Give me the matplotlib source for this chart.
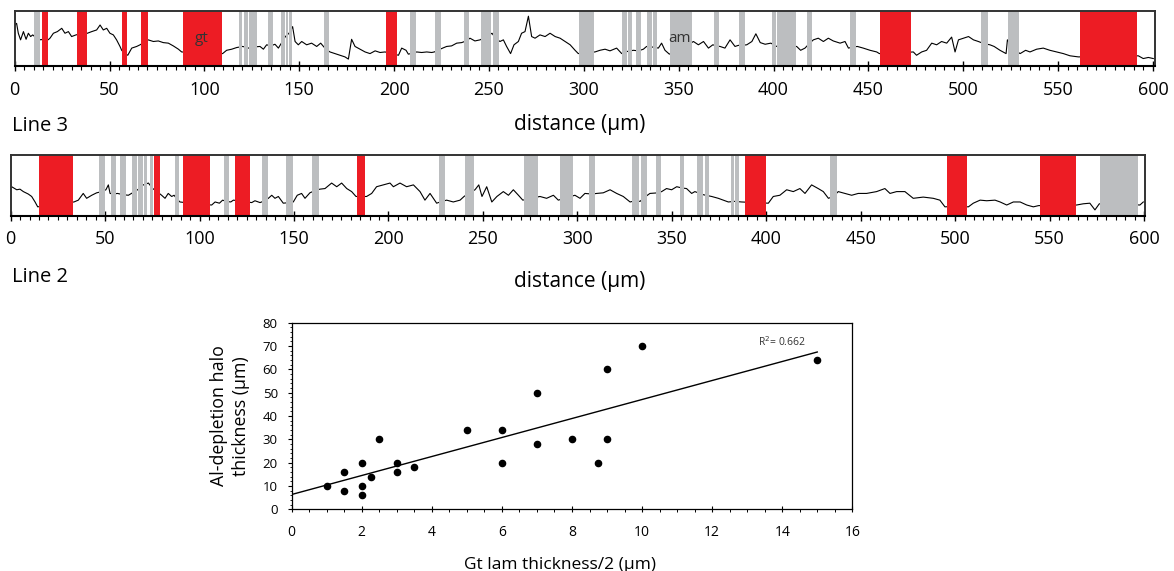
import numpy as np
import matplotlib
matplotlib.use('Agg')
import matplotlib.pyplot as plt
from matplotlib.ticker import MultipleLocator

plt.rcParams['font.family'] = ['Open Sans', 'DejaVu Sans']

RED = '#ED1C24'
GRAY = '#BCBEC0'

# ---------------- Data: top profile ----------------
top_dist = [0, 1.0, 1.9, 3.1, 4.6, 6.0, 7.2, 8.4, 9.5, 11.5, 13.8, 16, 17.6, 18.6, 20.4, 22.5, 24.8, 26.5,
            28.3, 30.0, 32.3, 35, 38.3, 40.6, 43.2, 45.0, 46.7, 48.5, 50.2, 52.0, 53.7, 55.5, 56.4, 58,
            59.6, 61.7, 64.3, 66.1, 68, 70.4, 73.1, 75.7, 78.3, 81.0, 83.6, 86.3, 88.0, 99, 109.6, 111.7,
            114.4, 117.0, 120.2, 123.3, 126, 129.3, 131.1, 132.8, 135, 137.2, 139.0, 142.7, 144.6, 146.5,
            147.8, 149.5, 151.3, 153.9, 156.5, 159.2, 161.3, 164, 166.2, 168.8, 171.5, 174.1, 175.9, 177.6,
            179.4, 182.0, 184.7, 187.3, 190.0, 192.6, 195.2, 198.7, 202.3, 204.0, 206.3, 207.5, 210, 211.9,
            214.5, 217.2, 219.8, 221.2, 223, 225.6, 227.7, 230.3, 233.0, 235.6, 238, 240.0, 242.6, 245.3,
            248.5, 251.6, 253.5, 255.8, 257.6, 259.3, 261.4, 263.2, 265.5, 267.2, 269.0, 270.8, 272.5,
            274.3, 276.9, 279.6, 282.2, 284.9, 287.5, 290.1, 292.8, 295.4, 297.1, 301, 305.9, 308.5, 311.2,
            313.8, 317.3, 320.0, 323, 326.1, 328.8, 331.4, 333.1, 336, 339.3, 341.0, 342.8, 345.1, 351,
            357.8, 360.4, 363.1, 365.7, 368.0, 370, 371.8, 374.4, 377.1, 379.7, 381.5, 383.3, 385.9, 388.6,
            390.7, 393.0, 395.6, 398.6, 401.7, 406.5, 412.2, 414.3, 416.6, 418.8, 421.0, 423.6, 426.3,
            428.9, 431.5, 435.1, 437.7, 439.5, 442, 444.2, 447.3, 450.9, 454.4, 455.8, 464, 473.7, 475.4,
            478.1, 480.7, 483.4, 486.0, 488.6, 491.3, 493.9, 495.7, 497.5, 500.1, 502.8, 505.4, 508.0, 511,
            514.1, 516.3, 519.4, 522.6, 523.3, 526.5, 530.0, 532.9, 535.2, 538.7, 542.2, 545.7, 549.3,
            552.8, 556.3, 560.7, 576, 592.3, 594.9, 597.6, 600.2]
top_val = [0.74, 0.77, 0.59, 0.47, 0.62, 0.48, 0.59, 0.53, 0.56, 0.50, 0.47, 0.50, 0.47, 0.50, 0.59, 0.62,
           0.68, 0.59, 0.62, 0.53, 0.56, 0.58, 0.59, 0.62, 0.65, 0.74, 0.65, 0.68, 0.59, 0.56, 0.47, 0.35,
           0.28, 0.22, 0.19, 0.32, 0.35, 0.38, 0.42, 0.47, 0.44, 0.45, 0.42, 0.41, 0.36, 0.30, 0.25, 0.23,
           0.22, 0.28, 0.30, 0.33, 0.35, 0.32, 0.34, 0.35, 0.30, 0.38, 0.36, 0.39, 0.32, 0.53, 0.59, 0.71,
           0.44, 0.38, 0.44, 0.38, 0.41, 0.35, 0.41, 0.30, 0.25, 0.22, 0.19, 0.16, 0.12, 0.48, 0.35, 0.30,
           0.25, 0.22, 0.27, 0.24, 0.25, 0.22, 0.19, 0.32, 0.28, 0.21, 0.23, 0.25, 0.24, 0.25, 0.24, 0.25,
           0.28, 0.32, 0.35, 0.36, 0.41, 0.42, 0.45, 0.50, 0.45, 0.47, 0.52, 0.59, 0.50, 0.44, 0.47, 0.35,
           0.22, 0.38, 0.44, 0.59, 0.62, 0.90, 0.53, 0.50, 0.56, 0.53, 0.59, 0.53, 0.50, 0.44, 0.38, 0.28,
           0.22, 0.24, 0.25, 0.28, 0.30, 0.27, 0.32, 0.22, 0.26, 0.28, 0.27, 0.30, 0.35, 0.34, 0.32, 0.41,
           0.28, 0.21, 0.30, 0.44, 0.38, 0.44, 0.32, 0.38, 0.36, 0.35, 0.32, 0.47, 0.35, 0.37, 0.37, 0.38,
           0.44, 0.58, 0.42, 0.39, 0.41, 0.35, 0.36, 0.35, 0.28, 0.32, 0.40, 0.47, 0.50, 0.44, 0.50, 0.45,
           0.41, 0.44, 0.32, 0.34, 0.35, 0.32, 0.28, 0.25, 0.22, 0.23, 0.25, 0.19, 0.25, 0.28, 0.41, 0.38,
           0.44, 0.41, 0.52, 0.25, 0.47, 0.50, 0.53, 0.47, 0.44, 0.40, 0.38, 0.35, 0.28, 0.22, 0.47, 0.30,
           0.22, 0.28, 0.25, 0.30, 0.32, 0.28, 0.25, 0.22, 0.18, 0.16, 0.17, 0.18, 0.13, 0.15, 0.13]
top_red = [(14.4, 17.4), (32.8, 38.1), (56.5, 59.2), (66.6, 70.1), (88.7, 109.1), (195.7, 201.7),
           (456.1, 472.3), (561.6, 591.5)]
top_gray = [(10.2, 13.3), (118.2, 120.0), (120.7, 123.1), (123.7, 127.6), (133.5, 136.2), (140.4, 142.6),
            (143.0, 144.2), (144.8, 146.3), (163.0, 165.7), (208.4, 211.4), (221.6, 224.7), (236.9, 239.6),
            (245.8, 251.1), (252.1, 255.3), (297.5, 305.2), (320.3, 322.8), (323.3, 325.4), (327.7, 330.0),
            (333.3, 335.9), (336.5, 338.4), (345.4, 357.0), (368.6, 371.3), (381.8, 384.8), (399.0, 401.3),
            (402.0, 411.7), (417.5, 420.2), (440.3, 443.5), (509.4, 513.1), (523.6, 529.4)]
top_phase_names = ['gt', 'am']
top_phase_pos = [98.6, 350.7]

# ---------------- Data: middle profile ----------------
mid_dist = [0.5, 3.2, 4.9, 6.7, 9.3, 11.1, 12.9, 14.3, 24, 33.5, 35.8, 38.4, 40.2, 42.9, 45.5, 48.3, 50.4,
            51.7, 52.6, 54.4, 56.5, 59.5, 62.3, 65.5, 67.2, 70.2, 72.9, 75.2, 77.5, 79.9, 81.7, 83.4, 85.2,
            86.5, 88, 89.6, 98, 106.4, 108.2, 110.5, 112.2, 114, 116.5, 117.9, 122.7, 127.6, 129.3, 132.0,
            134.5, 136.4, 138.2, 139.9, 141.7, 144.3, 147.5, 149.6, 151.7, 154.0, 155.8, 158.4, 161.3,
            163.7, 166.4, 169.9, 172.6, 175.2, 177.9, 180.5, 182.8, 185.3, 188.4, 191.1, 193.7, 197.3,
            200.8, 202.6, 206.1, 209.6, 213.2, 216.7, 219.3, 222.0, 225.5, 228.3, 230.8, 234.3, 237.9,
            240.0, 242.8, 245.8, 247.8, 249.5, 252.0, 254.7, 257.4, 260.8, 263.5, 266.1, 268.8, 271.1,
            275.4, 280.2, 283.7, 287.3, 289.9, 294.2, 298.7, 301.4, 304.0, 307.7, 310.2, 313.7, 317.3,
            320.8, 324.3, 327.9, 330.6, 333.2, 335.3, 338.4, 342.8, 344.6, 347.2, 349.9, 352.6, 355.3,
            357.8, 360.5, 362.2, 366.5, 371.1, 374.6, 377.3, 379.9, 383.4, 386.9, 394, 401.1, 403.7,
            407.2, 410.8, 414.3, 417.8, 420.5, 424.0, 427.5, 430.2, 432.9, 435.5, 438.1, 441.6, 445.2,
            448.7, 453.1, 458.4, 462.8, 465.5, 469.0, 473.4, 477.8, 483.1, 488.4, 491.9, 494.6, 501,
            507.0, 509.6, 513.2, 516.7, 521.1, 523.8, 527.3, 530.8, 534.4, 537.9, 541.4, 544.1, 554,
            564.3, 567.8, 571.3, 574.0, 576.3, 586, 597.8, 599.6]
mid_val = [0.48, 0.43, 0.44, 0.40, 0.36, 0.32, 0.23, 0.15, 0.20, 0.23, 0.26, 0.37, 0.29, 0.34, 0.38, 0.40,
           0.43, 0.51, 0.37, 0.36, 0.37, 0.35, 0.34, 0.40, 0.43, 0.51, 0.54, 0.45, 0.40, 0.34, 0.29, 0.37,
           0.32, 0.34, 0.28, 0.23, 0.20, 0.18, 0.23, 0.21, 0.26, 0.24, 0.23, 0.26, 0.24, 0.22, 0.25, 0.22,
           0.25, 0.29, 0.34, 0.29, 0.32, 0.21, 0.22, 0.23, 0.34, 0.37, 0.29, 0.38, 0.42, 0.44, 0.45, 0.54,
           0.48, 0.54, 0.45, 0.40, 0.32, 0.32, 0.32, 0.37, 0.48, 0.51, 0.54, 0.48, 0.54, 0.48, 0.51, 0.40,
           0.26, 0.37, 0.21, 0.24, 0.26, 0.23, 0.26, 0.32, 0.38, 0.43, 0.51, 0.32, 0.48, 0.23, 0.32, 0.40,
           0.34, 0.43, 0.34, 0.26, 0.29, 0.32, 0.29, 0.34, 0.26, 0.30, 0.34, 0.29, 0.37, 0.36, 0.37, 0.38,
           0.43, 0.37, 0.32, 0.23, 0.25, 0.24, 0.30, 0.37, 0.38, 0.40, 0.45, 0.43, 0.48, 0.46, 0.45, 0.37,
           0.40, 0.35, 0.32, 0.29, 0.26, 0.23, 0.24, 0.23, 0.22, 0.21, 0.32, 0.34, 0.43, 0.40, 0.45, 0.37,
           0.51, 0.45, 0.40, 0.29, 0.32, 0.40, 0.37, 0.34, 0.37, 0.37, 0.40, 0.45, 0.37, 0.40, 0.40, 0.29,
           0.31, 0.29, 0.26, 0.15, 0.16, 0.15, 0.21, 0.26, 0.25, 0.26, 0.23, 0.18, 0.23, 0.23, 0.18, 0.15,
           0.17, 0.18, 0.18, 0.20, 0.21, 0.10, 0.20, 0.20, 0.18, 0.23]
mid_red = [(15.0, 33.0), (75.9, 79.0), (91.2, 105.3), (118.7, 126.7), (183.3, 187.4), (388.7, 399.8),
           (495.7, 506.2), (544.9, 563.9)]
mid_gray = [(46.7, 49.9), (53.1, 55.7), (58.0, 61.0), (64.2, 66.9), (67.6, 69.9), (70.6, 72.2), (73.7, 75.5),
            (87.0, 89.1), (112.9, 115.6), (133.0, 136.0), (145.7, 149.3), (159.5, 163.2), (226.7, 229.9),
            (240.5, 245.1), (271.7, 279.1), (290.8, 297.7), (306.1, 309.3), (328.9, 332.4), (333.7, 336.8),
            (341.6, 344.1), (354.3, 356.4), (363.3, 366.7), (367.5, 369.7), (381.3, 382.9), (383.6, 385.5),
            (433.7, 437.4), (576.7, 596.6)]

# ---------------- Data: scatter ----------------
gt_half = [1, 1.5, 1.5, 2, 2, 2, 2.25, 2.5, 3, 3, 3.5, 5, 6, 6, 7, 7, 8, 8.75, 9, 9, 10, 15]
halo = [10, 16, 8, 20, 10, 6, 14, 30, 20, 16, 18, 34, 34, 20, 50, 28, 30, 20, 60, 30, 70, 64]
r2_label = 'R$^2$= 0.662'
strip_ticks = list(range(0, 601, 50))

W, H = 1174, 571
fig = plt.figure(figsize=(W / 100, H / 100), dpi=100)


def strip(rect, xmax, dist, val, reds, grays, pad):
    ax = fig.add_axes(rect)
    ax.plot(dist, val, color='black', lw=0.8, zorder=1)
    for a, b in grays:
        ax.axvspan(a, b, color=GRAY, lw=0, zorder=2)
    for a, b in reds:
        ax.axvspan(a, b, color=RED, lw=0, zorder=2)
    ax.set_xlim(0, xmax)
    ax.set_ylim(0, 1)
    ax.set_yticks([])
    ax.set_xticks(strip_ticks)
    ax.xaxis.set_minor_locator(MultipleLocator(5))
    ax.tick_params(axis='x', which='major', direction='inout', length=6.5, width=1.0,
                   labelsize=13, pad=pad)
    ax.tick_params(axis='x', which='minor', direction='out', length=3.2, width=0.8)
    for s in ['top', 'left', 'right']:
        ax.spines[s].set_color('#333333')
        ax.spines[s].set_linewidth(1.4)
    ax.spines['bottom'].set_color('black')
    ax.spines['bottom'].set_linewidth(1.5)
    return ax


ax1 = strip([14.7 / W, 1 - 65.7 / H, (1155 - 14.7) / W, 55 / H], 601.1,
            top_dist, top_val, top_red, top_gray, 7.5)
for name, pos in zip(top_phase_names, top_phase_pos):
    ax1.text(pos, 0.5, name, ha='center', va='center', fontsize=11, color='#333333', zorder=3)
ax2 = strip([10.7 / W, 1 - 216 / H, (1145 - 10.7) / W, 61 / H], 600.5,
            mid_dist, mid_val, mid_red, mid_gray, 6.5)

fig.text(12.3 / W, 1 - 131 / H, 'Line 3', fontsize=14.5, va='baseline', ha='left')
fig.text(580 / W, 1 - 130 / H, 'distance (µm)', fontsize=15, va='baseline', ha='center')
fig.text(11.7 / W, 1 - 281.7 / H, 'Line 2', fontsize=14.5, va='baseline', ha='left')
fig.text(580 / W, 1 - 287 / H, 'distance (µm)', fontsize=15, va='baseline', ha='center')

# scatter
ax3 = fig.add_axes([291.7 / W, 1 - 509.3 / H, 560.6 / W, 186.6 / H])
ax3.scatter(gt_half, halo, s=20, color='black', zorder=3)
coef = np.polyfit(gt_half, halo, 1)
xfit = np.array([0, max(gt_half)])
ax3.plot(xfit, np.polyval(coef, xfit), color='black', lw=1.0)
ax3.text(14.0, 70.0, r2_label, ha='center', va='baseline', fontsize=7.5, color='#333333')
ax3.set_xlim(0, 16)
ax3.set_ylim(0, 80)
ax3.xaxis.set_major_locator(MultipleLocator(2))
ax3.xaxis.set_minor_locator(MultipleLocator(0.5))
ax3.yaxis.set_major_locator(MultipleLocator(10))
ax3.yaxis.set_minor_locator(MultipleLocator(2))
ax3.tick_params(axis='x', which='major', direction='inout', length=5, width=0.8, labelsize=10, pad=8.5)
ax3.tick_params(axis='x', which='minor', direction='out', length=2.2, width=0.7)
ax3.tick_params(axis='y', which='major', direction='out', length=3, width=0.8, labelsize=9.5, pad=7)
ax3.tick_params(axis='y', which='minor', direction='out', length=1.8, width=0.6)
for s in ax3.spines.values():
    s.set_linewidth(0.9)
ax3.text(-0.110, 0.5, 'Al-depletion halo\nthickness (µm)', transform=ax3.transAxes, rotation=90,
         ha='center', va='center', fontsize=12.8, linespacing=1.35, multialignment='center')
fig.text(560 / W, 1 - 569 / H, 'Gt lam thickness/2 (µm)', fontsize=12.5, ha='center', va='baseline')

fig.savefig('out.png', dpi=100)
